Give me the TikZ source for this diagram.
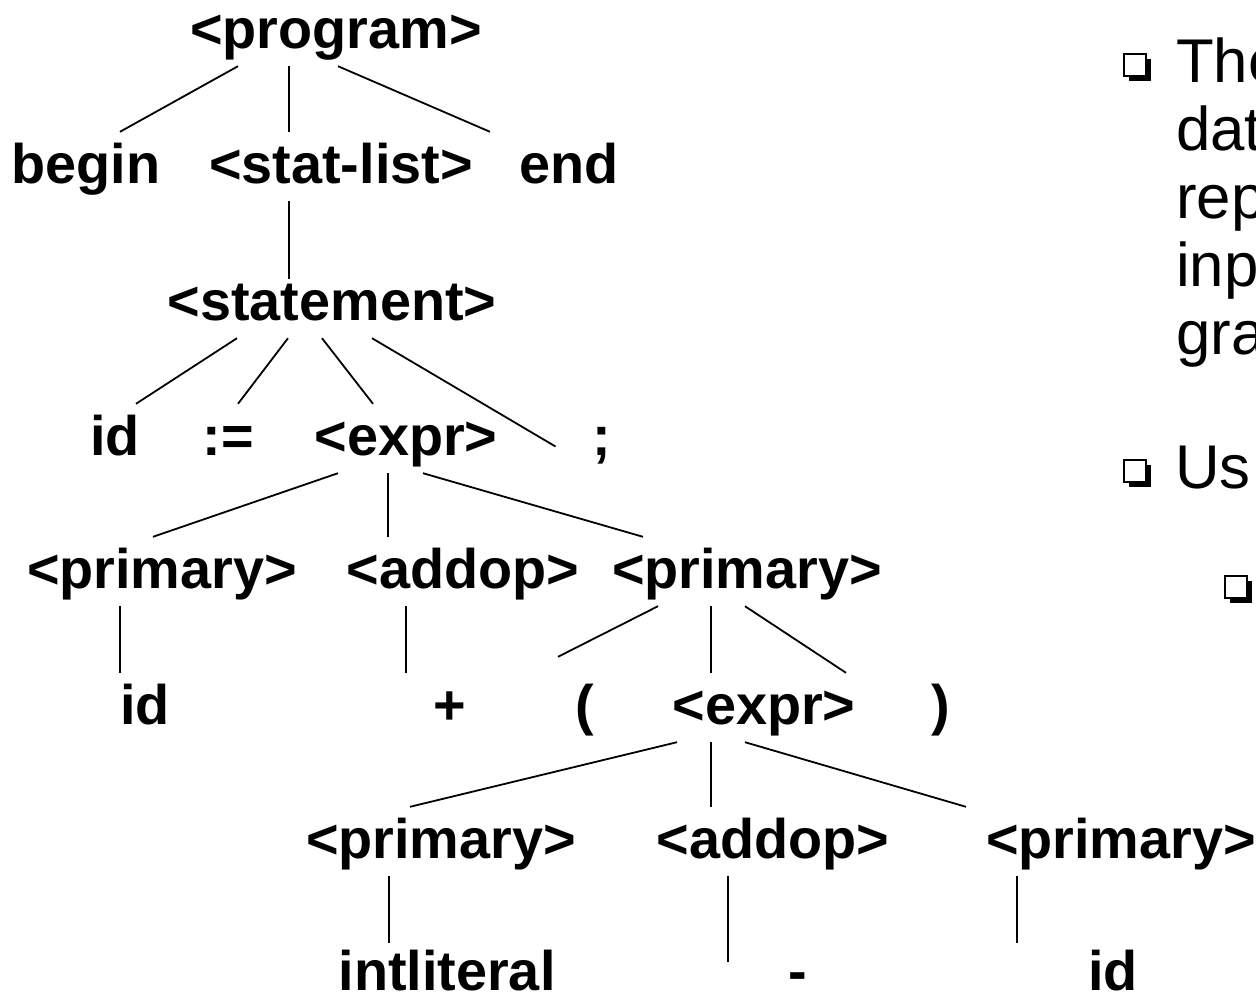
\documentclass[tikz,border=0pt]{standalone}
\usepackage{fontspec}
\setmainfont{Liberation Sans}
\usetikzlibrary{shadows}
\usetikzlibrary{positioning}

\begin{document}
\begin{tikzpicture}[x=1bp,y=-1bp,
    sym/.style={font=\fontsize{56}{60}\selectfont\bfseries, anchor=base,
        text height=45bp, text depth=12bp, inner ysep=6bp, inner xsep=0pt},
    leaf/.style={sym, text depth=0pt},
    branch/.style={line width=1.8bp},
    txt/.style={font=\fontsize{62}{68}\selectfont, anchor=base west, inner sep=0pt},
    bulletbox/.style={draw, line width=2bp, fill=white, minimum size=22bp, inner sep=0pt,
        drop shadow={shadow xshift=5bp, shadow yshift=-5bp, fill=black, opacity=1}}]
        \useasboundingbox (0,0) rectangle (1256,996);
        \clip (0,0) rectangle (1256,996);

        % parse tree, one row at a time
        \node[sym] (prog) at (336,48) {<program>};

        \node[sym] (begin) at (86,183) {begin};
        \node[sym] (statlist) at (341,183) {<stat-list>};
        \node[sym] (end) at (569,183) {end};

        \node[sym] (stmt) at (332,320) {<statement>};

        \node[sym] (id) at (115,455) {id};
        \node[sym] (assign) at (228,455) {:=};
        \node[sym] (expr) at (406,455) {<expr>};
        \node[sym] (semi) at (602,455) {;};

        \node[sym] (prim1) at (162,588) {<primary>};
        \node[sym] (addop1) at (463,588) {<addop>};
        \node[sym] (prim2) at (747,588) {<primary>};

        \node[sym] (id2) at (145,724) {id};
        \node[sym] (plus) at (450,724) {+};
        \node[sym] (lpar) at (585,724) {(};
        \node[sym] (expr2) at (764,724) {<expr>};
        \node[sym] (rpar) at (941,724) {)};

        \node[sym] (prim3) at (441,858) {<primary>};
        \node[sym] (addop2) at (773,858) {<addop>};
        \node[sym] (prim4) at (1121,858) {<primary>};

        \node[leaf] (intlit) at (447,990) {intliteral};
        \node[leaf] (minus) at (798,990) {-};
        \node[leaf] (id3) at (1113,990) {id};

        % branches
        \draw[branch] ([xshift=-98bp]prog.south) -- ([xshift=34bp]begin.north);
        \draw[branch] ([xshift=-47bp]prog.south) -- ([xshift=-52bp]statlist.north);
        \draw[branch] ([xshift=2bp]prog.south) -- ([xshift=-79bp]end.north);

        \draw[branch, shorten >=-10bp] ([xshift=-52bp]statlist.south) -- ([xshift=-43bp]stmt.north);

        \draw[branch] ([xshift=-95bp]stmt.south) -- ([xshift=21bp]id.north);
        \draw[branch] ([xshift=-44bp]stmt.south) -- ([xshift=10bp]assign.north);
        \draw[branch] ([xshift=-10bp]stmt.south) -- ([xshift=-33bp]expr.north);
        \draw[branch] ([xshift=40bp]stmt.south) -- ([xshift=-37bp,yshift=-8bp]semi.west);

        \draw[branch] ([xshift=-68bp]expr.south) -- ([xshift=-9bp]prim1.north);
        \draw[branch] ([xshift=-18bp]expr.south) -- ([xshift=-75bp]addop1.north);
        \draw[branch] ([xshift=17bp]expr.south) -- ([xshift=-104bp]prim2.north);

        \draw[branch] ([xshift=-42bp]prim1.south) -- ([xshift=-25bp]id2.north);
        \draw[branch] ([xshift=-57bp]addop1.south) -- ([xshift=-44bp]plus.north);
        \draw[branch] ([xshift=-89bp]prim2.south) -- ([xshift=-27bp,yshift=16bp]lpar.north);
        \draw[branch] ([xshift=-36bp]prim2.south) -- ([xshift=-53bp]expr2.north);
        \draw[branch] ([xshift=-2bp]prim2.south) -- ([xshift=-95bp]rpar.north);

        \draw[branch] ([xshift=-87bp]expr2.south) -- ([xshift=-31bp]prim3.north);
        \draw[branch] ([xshift=-53bp]expr2.south) -- ([xshift=-62bp]addop2.north);
        \draw[branch] ([xshift=-19bp]expr2.south) -- ([xshift=-155bp]prim4.north);

        \draw[branch, shorten >=-4bp] ([xshift=-52bp]prim3.south) -- ([xshift=-58bp]intlit.north);
        \draw[branch] ([xshift=-45bp]addop2.south) -- ([xshift=-70bp,yshift=-23bp]minus.north);
        \draw[branch, shorten >=-4bp] ([xshift=-104bp]prim4.south) -- ([xshift=-96bp]id3.north);

        % bullet text on the right
        \node[bulletbox] (b1) at (1135,65) {};
        \node[txt] (l1) at (1176,82) {The};
        \node[txt] (l2) at (1176,150) {dat};
        \node[txt] (l3) at (1176,218) {rep};
        \node[txt] (l4) at (1176,286) {inp};
        \node[txt] (l5) at (1176,354) {gra};
        \node[bulletbox] (b2) at (1135,471) {};
        \node[txt] (l6) at (1175,488) {Us};
        \node[bulletbox] (b3) at (1236,587) {};
    \end{tikzpicture}
\end{document}
